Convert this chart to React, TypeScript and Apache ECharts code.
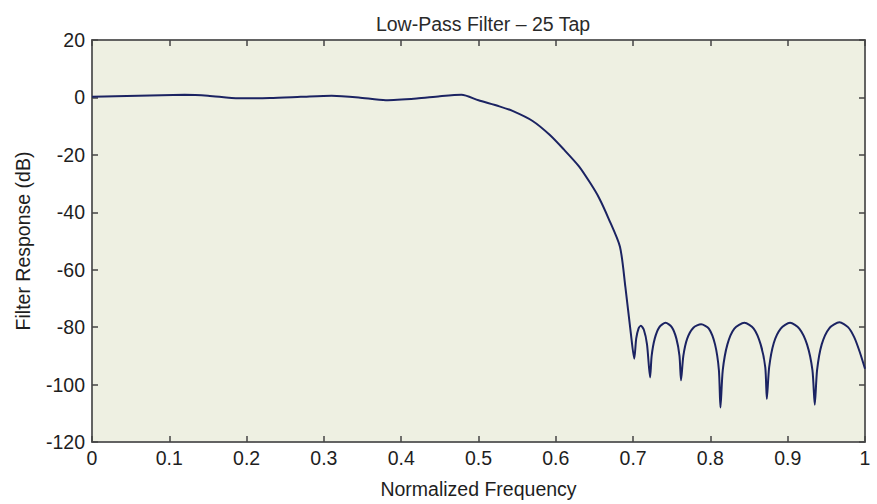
import React, { useEffect, useRef } from "react";
import * as echarts from "echarts";

const titleText = "Low-Pass Filter \u2013 25 Tap";
const xAxisName = "Normalized Frequency";
const yAxisName = "Filter Response (dB)";

// Normalized frequency samples
const freq = [
  0, 0.03, 0.06, 0.09, 0.12, 0.15, 0.19, 0.23, 0.27, 0.31, 0.345, 0.38, 0.42, 0.45, 0.478, 0.50,
  0.527, 0.544, 0.57, 0.592, 0.61, 0.63, 0.645, 0.656, 0.668, 0.683, 0.69, 0.697, 0.7015,
  0.704, 0.707, 0.710, 0.714, 0.718, 0.722,
  0.724, 0.728, 0.734, 0.742, 0.750, 0.756, 0.760, 0.762,
  0.765, 0.77, 0.778, 0.788, 0.798, 0.806, 0.811, 0.813,
  0.816, 0.822, 0.831, 0.844, 0.856, 0.865, 0.871, 0.873,
  0.876, 0.882, 0.891, 0.903, 0.915, 0.925, 0.932, 0.935,
  0.938, 0.944, 0.954, 0.967, 0.978, 0.986, 0.993, 1.0,
];

// Filter response in dB at each frequency
const resp = [
  0.2, 0.4, 0.6, 0.8, 0.9, 0.6, -0.3, -0.2, 0.2, 0.6, 0.0, -1.0, -0.4, 0.4, 0.9, -1.0,
  -3.1, -4.7, -8.2, -13, -18, -24, -30, -35, -42, -52, -66, -82, -91,
  -84, -80.5, -79.5, -81, -86, -97.5,
  -90, -84, -80, -78.5, -80, -84, -90, -98.5,
  -90, -84, -80.2, -79, -80.5, -86, -95, -108,
  -95, -86, -80.5, -78.5, -80.5, -86, -94, -105,
  -94, -85.5, -80.5, -78.5, -80.5, -86, -95, -107,
  -95, -86, -80.3, -78.3, -80, -83.5, -88.5, -94.5,
];

const xMin = 0;
const xMax = 1;
const xInterval = 0.1;
const yMin = -120;
const yMax = 20;
const yInterval = 20;

export default function App() {
  const ref = useRef<HTMLDivElement>(null);

  useEffect(() => {
    if (!ref.current) return;
    const chart = echarts.init(ref.current, undefined, { renderer: "svg" });
    const font = "'Liberation Sans', Arial, Helvetica, sans-serif";
    const fs = 19.5;
    const axisLineStyle = { color: "#5a5a5a", width: 1.5 };
    const tickStyle = { color: "#444", width: 1.5 };
    const data = freq.map((f, i) => [f, resp[i]]);

    chart.setOption({
      animation: false,
      backgroundColor: "#ffffff",
      title: {
        text: titleText,
        left: 478,
        top: 9,
        textAlign: "center",
        textStyle: { fontFamily: font, fontSize: fs, fontWeight: "normal", color: "#2a2a2a" },
      },
      grid: {
        left: 92,
        right: 12,
        top: 40,
        bottom: 58,
        show: true,
        backgroundColor: "#eef0e2",
        borderColor: "#5a5a5a",
        borderWidth: 1.5,
      },
      xAxis: [
        {
          type: "value",
          min: xMin,
          max: xMax,
          interval: xInterval,
          position: "bottom",
          name: xAxisName,
          nameLocation: "middle",
          nameGap: 37,
          nameTextStyle: { fontFamily: font, fontSize: fs, color: "#1e1e1e" },
          axisLine: { show: true, onZero: false, lineStyle: axisLineStyle },
          axisTick: { show: true, inside: true, length: 6, lineStyle: tickStyle },
          axisLabel: { fontFamily: font, fontSize: fs, color: "#1e1e1e", margin: 6 },
          splitLine: { show: false },
        },
        {
          type: "value",
          min: xMin,
          max: xMax,
          interval: xInterval,
          position: "top",
          axisLine: { show: true, onZero: false, lineStyle: axisLineStyle },
          axisTick: { show: true, inside: true, length: 6, lineStyle: tickStyle },
          axisLabel: { show: false },
          splitLine: { show: false },
        },
      ],
      yAxis: [
        {
          type: "value",
          min: yMin,
          max: yMax,
          interval: yInterval,
          position: "left",
          name: yAxisName,
          nameLocation: "middle",
          nameGap: 59,
          nameTextStyle: { fontFamily: font, fontSize: fs, color: "#1e1e1e" },
          axisLine: { show: true, onZero: false, lineStyle: axisLineStyle },
          axisTick: { show: true, inside: true, length: 6, lineStyle: tickStyle },
          axisLabel: { fontFamily: font, fontSize: fs, color: "#1e1e1e", margin: 7 },
          splitLine: { show: false },
        },
        {
          type: "value",
          min: yMin,
          max: yMax,
          interval: yInterval,
          position: "right",
          axisLine: { show: true, onZero: false, lineStyle: axisLineStyle },
          axisTick: { show: true, inside: true, length: 6, lineStyle: tickStyle },
          axisLabel: { show: false },
          splitLine: { show: false },
        },
      ],
      series: [
        {
          type: "line",
          data,
          xAxisIndex: 0,
          yAxisIndex: 0,
          showSymbol: false,
          smooth: 0.25,
          lineStyle: { color: "#1b2362", width: 2 },
        },
      ],
    });

    return () => chart.dispose();
  }, []);

  return (
    <div
      ref={ref}
      style={{ position: "fixed", left: 0, top: 0, width: 877, height: 504 }}
    />
  );
}
